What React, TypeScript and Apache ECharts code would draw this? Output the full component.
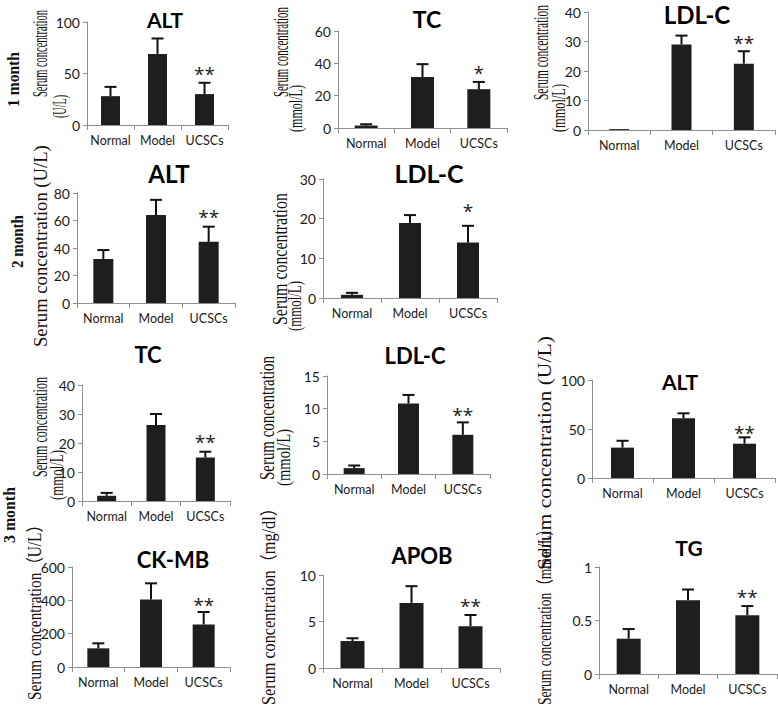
import React, { useEffect, useRef } from 'react';
import * as echarts from 'echarts';

const categories = ['Normal', 'Model', 'UCSCs'];

// 1 month
const alt1Mean = [28, 69, 30];
const alt1Sd = [9, 15, 11];
const alt1Sig = ['', '', '**'];
const tc1Mean = [1.5, 31.5, 24];
const tc1Sd = [0.8, 8, 4.5];
const tc1Sig = ['', '', '*'];
const ldl1Mean = [0.3, 29, 22.5];
const ldl1Sd = [0, 3, 4.2];
const ldl1Sig = ['', '', '**'];
// 2 month
const alt2Mean = [32, 64, 44.5];
const alt2Sd = [6.5, 11, 11];
const alt2Sig = ['', '', '**'];
const ldl2Mean = [0.8, 18.9, 14];
const ldl2Sd = [0.5, 2, 4.2];
const ldl2Sig = ['', '', '*'];
// 3 month
const tc3Mean = [1.8, 26.2, 15];
const tc3Sd = [1, 3.8, 2];
const ldl3Mean = [0.9, 10.8, 6];
const ldl3Sd = [0.4, 1.3, 1.9];
const alt3Mean = [31, 61, 35];
const alt3Sd = [7, 5, 6.5];
const ckmbMean = [112, 405, 255];
const ckmbSd = [30, 97, 75];
const apobMean = [2.9, 7, 4.5];
const apobSd = [0.3, 1.8, 1.2];
const tgMean = [0.33, 0.69, 0.55];
const tgSd = [0.09, 0.1, 0.085];
const sig3 = ['', '', '**'];

const titles = ['ALT', 'TC', 'LDL-C', 'ALT', 'LDL-C', 'TC', 'LDL-C', 'ALT', 'CK-MB', 'APOB', 'TG'];
const yMax = [100, 60, 40, 80, 30, 40, 15, 100, 600, 10, 1];
const yStep = [50, 20, 10, 20, 10, 10, 5, 50, 200, 5, 0.5];
const rowLabels = ['1 month', '2 month', '3 month'];

const SANS = 'Lato, "Open Sans", sans-serif';
const SERIF = '"Liberation Serif", "Times New Roman", "Noto Sans CJK SC", serif';

const panels = [
  { mean: alt1Mean, sd: alt1Sd, sig: alt1Sig, l: 87, t: 22, b: 125, r: 228, bw: 19, tx: 165, ty: 19, ts: 21, gap: 12 },
  { mean: tc1Mean, sd: tc1Sd, sig: tc1Sig, l: 338, t: 31, b: 128, r: 507, bw: 23, tx: 427, ty: 19, ts: 23, gap: 12 },
  { mean: ldl1Mean, sd: ldl1Sd, sig: ldl1Sig, l: 588, t: 12, b: 130, r: 775, bw: 20, tx: 697, ty: 14, ts: 24, gap: 11 },
  { mean: alt2Mean, sd: alt2Sd, sig: alt2Sig, l: 77, t: 193, b: 303, r: 235, bw: 20, tx: 169, ty: 173, ts: 24, gap: 13 },
  { mean: ldl2Mean, sd: ldl2Sd, sig: ldl2Sig, l: 323, t: 179, b: 298, r: 497, bw: 22, tx: 429, ty: 173, ts: 25, gap: 18 },
  { mean: tc3Mean, sd: tc3Sd, sig: sig3, l: 82, t: 385, b: 501, r: 230, bw: 19, tx: 148, ty: 354, ts: 22, gap: 13 },
  { mean: ldl3Mean, sd: ldl3Sd, sig: sig3, l: 327, t: 376, b: 474, r: 490, bw: 21, tx: 415, ty: 355, ts: 22, gap: 10 },
  { mean: alt3Mean, sd: alt3Sd, sig: sig3, l: 592, t: 380, b: 478, r: 775, bw: 23, tx: 680, ty: 381, ts: 21, gap: 7 },
  { mean: ckmbMean, sd: ckmbSd, sig: sig3, l: 72, t: 567, b: 667, r: 230, bw: 22, tx: 173, ty: 559, ts: 22, gap: 10 },
  { mean: apobMean, sd: apobSd, sig: sig3, l: 323, t: 575, b: 668, r: 500, bw: 24, tx: 422, ty: 555, ts: 22, gap: 12 },
  { mean: tgMean, sd: tgSd, sig: sig3, l: 599, t: 567, b: 674, r: 777, bw: 24, tx: 689, ty: 547, ts: 21, gap: 12 },
];

// rotated axis names: x = centre across, y = start (bottom), len = length along text
const yNames = [
  { text: 'Serum concentration', x: 40, y: 97, len: 87, size: 20 },
  { text: '(U/L)', x: 59, y: 118, len: 23, size: 19 },
  { text: 'Serum concentration', x: 281, y: 97, len: 90, size: 20 },
  { text: '(mmol/L)', x: 295, y: 132, len: 47, size: 19 },
  { text: 'Serum concentration', x: 541, y: 100, len: 95, size: 20 },
  { text: '(mmol/L)', x: 558, y: 132, len: 48, size: 19 },
  { text: 'Serum concentration (U/L)', x: 41, y: 347, len: 202, size: 18 },
  { text: 'Serum concentration', x: 280, y: 325, len: 132, size: 20 },
  { text: '(mmol/L)', x: 295, y: 331, len: 50, size: 19 },
  { text: 'Serum concentration', x: 40, y: 477, len: 100, size: 20 },
  { text: '(mmol/L)', x: 57, y: 500, len: 50, size: 19 },
  { text: 'Serum concentration', x: 267, y: 480, len: 124, size: 20 },
  { text: '(mmol/L)', x: 284, y: 486, len: 57, size: 19 },
  { text: 'Serum concentration (U/L)', x: 545, y: 570, len: 234, size: 18 },
  { text: 'Serum concentration（U/L）', x: 35, y: 700, len: 183, size: 18 },
  { text: 'Serum concentration（mg/dl）', x: 269, y: 705, len: 205, size: 18 },
  { text: 'Serum concentration（mmol/L）', x: 545, y: 705, len: 183, size: 18 },
];

const rowPos = [
  { x: 13, y: 107, len: 55 },
  { x: 17, y: 268, len: 53 },
  { x: 9, y: 543, len: 56 },
];

const ctx = typeof document !== 'undefined' ? document.createElement('canvas').getContext('2d') : null;
function measure(text: string, size: number, weight = 'normal') {
  if (!ctx) return text.length * size * 0.45;
  ctx.font = `${weight} ${size}px ${SERIF}`;
  return ctx.measureText(text).width;
}

function rotatedText(text: string, x: number, y: number, len: number, size: number, weight = 'normal') {
  const w = measure(text, size, weight);
  return {
    type: 'text',
    x,
    y,
    rotation: Math.PI / 2,
    scaleX: len / w,
    scaleY: 1,
    silent: true,
    style: {
      text,
      fontSize: size,
      fontFamily: SERIF,
      fontWeight: weight,
      fill: '#111',
      align: 'left',
      verticalAlign: 'middle',
      textAlign: 'left',
      textVerticalAlign: 'middle',
    },
  };
}

export default function App() {
  const ref = useRef<HTMLDivElement>(null);
  useEffect(() => {
    if (!ref.current) return;
    const chart = echarts.init(ref.current, undefined, { renderer: 'svg' });
    const axisColor = '#8f8f8f';
    const grid: any[] = [];
    const xAxis: any[] = [];
    const yAxis: any[] = [];
    const series: any[] = [];
    const graphic: any[] = [];

    panels.forEach((p, i) => {
      grid.push({ left: p.l, top: p.t, width: p.r - p.l, height: p.b - p.t, containLabel: false });
      xAxis.push({
        type: 'category',
        gridIndex: i,
        data: categories,
        axisLine: { show: true, lineStyle: { color: axisColor, width: 1 } },
        axisTick: { show: true, length: 5, lineStyle: { color: axisColor } },
        axisLabel: { color: '#1a1a1a', fontFamily: SANS, fontSize: 12.5, margin: 9, interval: 0, hideOverlap: false },
      });
      yAxis.push({
        type: 'value',
        gridIndex: i,
        min: 0,
        max: yMax[i],
        interval: yStep[i],
        splitLine: { show: false },
        axisLine: { show: true, lineStyle: { color: axisColor, width: 1 } },
        axisTick: { show: true, length: 4, lineStyle: { color: axisColor } },
        axisLabel: { color: '#1a1a1a', fontFamily: SANS, fontSize: 14, margin: 7 },
      });
      series.push({
        type: 'bar',
        xAxisIndex: i,
        yAxisIndex: i,
        data: p.mean,
        barWidth: p.bw,
        itemStyle: { color: '#1e1e1e' },
        silent: true,
      });
      series.push({
        type: 'custom',
        xAxisIndex: i,
        yAxisIndex: i,
        silent: true,
        z: 3,
        data: p.mean.map((m, j) => [j, m, p.sd[j]]),
        encode: { x: 0, y: 1 },
        renderItem: (params: any, api: any) => {
          const j = params.dataIndex;
          const m = api.value(1) as number;
          const s = api.value(2) as number;
          const base = api.coord([j, m]);
          const top = api.coord([j, m + s]);
          const cap = 6;
          const children: any[] = [];
          if (s > 0) {
            children.push({
              type: 'line',
              shape: { x1: base[0], y1: base[1], x2: top[0], y2: top[1] },
              style: { stroke: '#111', lineWidth: 2 },
            });
            children.push({
              type: 'line',
              shape: { x1: top[0] - cap, y1: top[1], x2: top[0] + cap, y2: top[1] },
              style: { stroke: '#111', lineWidth: 2 },
            });
          }
          const sg = p.sig[j];
          if (sg) {
            children.push({
              type: 'text',
              style: {
                text: sg,
                x: top[0],
                y: top[1] - p.gap + 3,
                align: 'center',
                verticalAlign: 'middle',
                textAlign: 'center',
                textVerticalAlign: 'middle',
                fontSize: 19,
                fontFamily: '"Open Sans", sans-serif',
                fill: '#222',
              },
            });
          }
          return { type: 'group', children };
        },
      });
      graphic.push({
        type: 'text',
        x: p.tx,
        y: p.ty,
        silent: true,
        style: {
          text: titles[i],
          fontSize: p.ts,
          fontWeight: 'bold',
          fontFamily: SANS,
          fill: '#000',
          align: 'center',
          verticalAlign: 'middle',
          textAlign: 'center',
          textVerticalAlign: 'middle',
        },
      });
    });

    yNames.forEach((n) => graphic.push(rotatedText(n.text, n.x, n.y, n.len, n.size)));
    rowLabels.forEach((t, k) => {
      const rp = rowPos[k];
      graphic.push(rotatedText(t, rp.x, rp.y, rp.len, 16, 'bold'));
    });

    chart.setOption({
      animation: false,
      backgroundColor: '#ffffff',
      grid,
      xAxis,
      yAxis,
      series,
      graphic: { elements: graphic },
    });
    return () => chart.dispose();
  }, []);
  return <div ref={ref} style={{ position: 'absolute', left: 0, top: 0, width: 778, height: 707 }} />;
}
